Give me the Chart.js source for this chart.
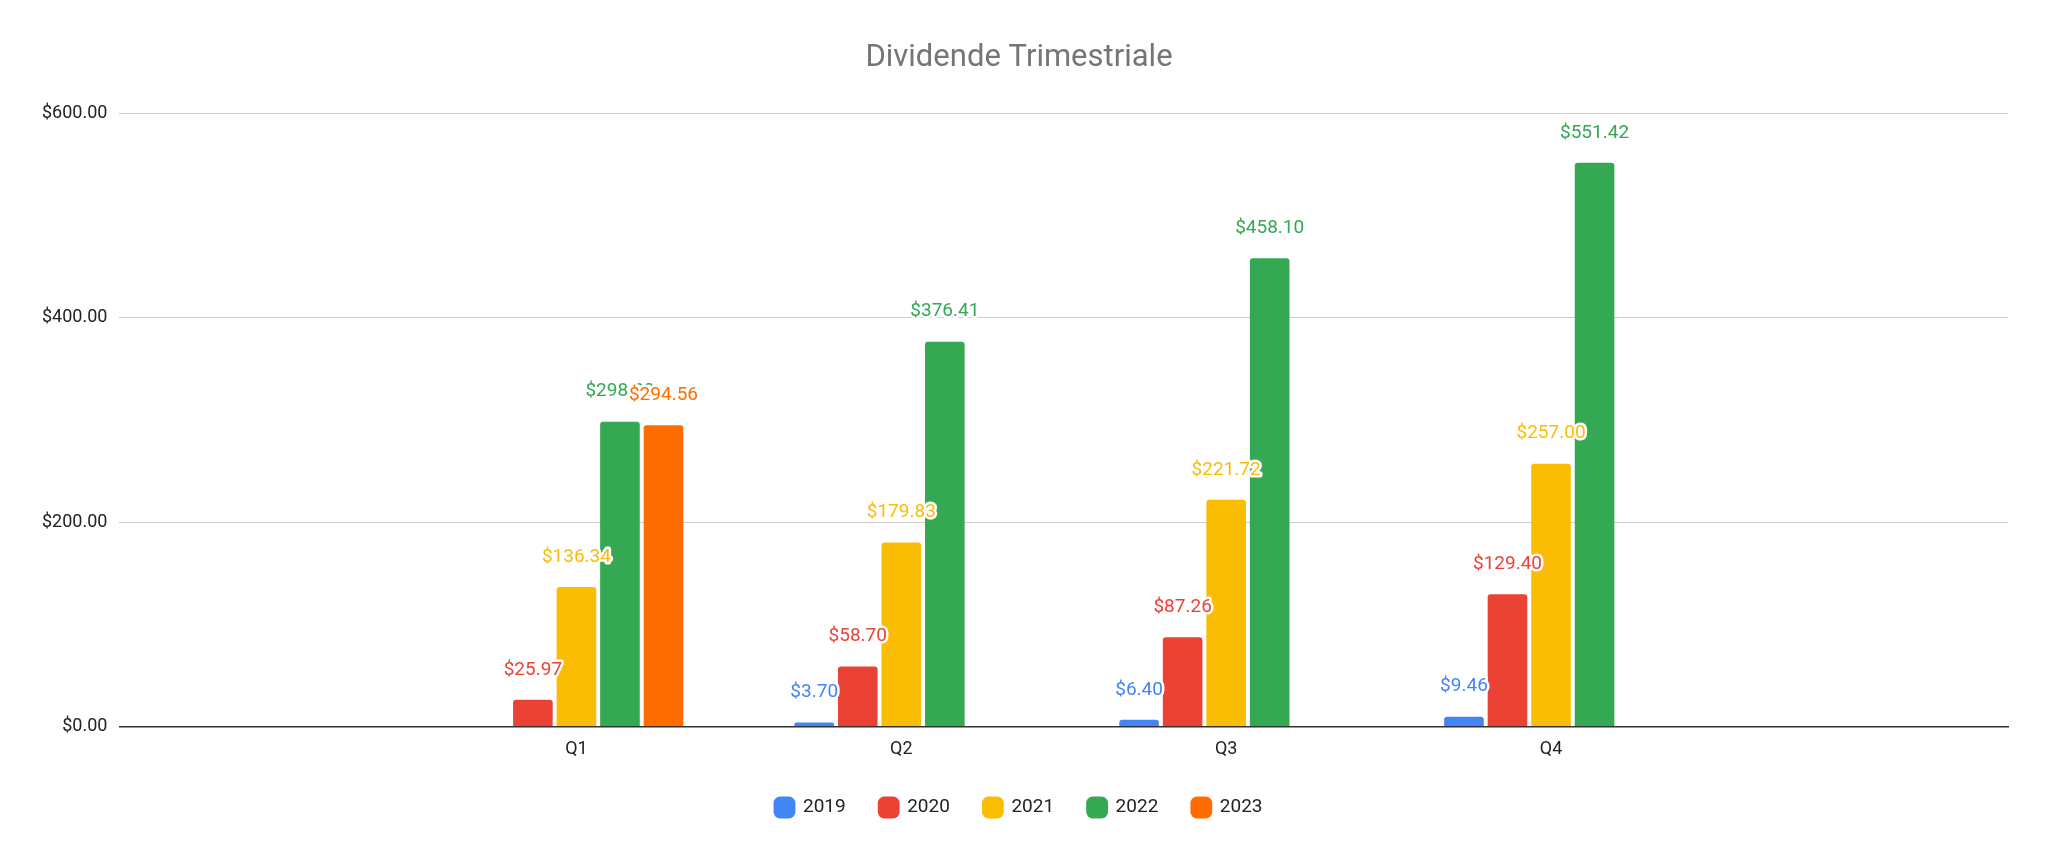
<!DOCTYPE html>
<html>
<head>
<meta charset="utf-8">
<script src="https://cdn.jsdelivr.net/npm/chart.js@4"></script>
<style>
  html, body { margin: 0; padding: 0; background: #fff; }
  #wrap { width: 2048px; height: 841px; }
</style>
</head>
<body>
<div id="wrap"><canvas id="chart"></canvas></div>
<script>
const quarters = ['Q1', 'Q2', 'Q3', 'Q4'];
const years = ['2019', '2020', '2021', '2022', '2023'];
const div2019 = [null, 3.70, 6.40, 9.46];
const div2020 = [25.97, 58.70, 87.26, 129.40];
const div2021 = [136.34, 179.83, 221.72, 257.00];
const div2022 = [298.20, 376.41, 458.10, 551.42];
const div2023 = [294.56, null, null, null];
const yTicks = [0, 200, 400, 600];

const colors = ['#4285f4', '#ea4335', '#fbbc04', '#34a853', '#ff6d01'];
const series = [div2019, div2020, div2021, div2022, div2023];

const money = v => '$' + v.toFixed(2);

// value labels above each bar, white halo like the original
const barLabels = {
  id: 'barLabels',
  afterDatasetsDraw(chart) {
    const ctx = chart.ctx;
    ctx.save();
    ctx.font = '19px Roboto, sans-serif';
    ctx.textAlign = 'center';
    ctx.textBaseline = 'middle';
    ctx.lineJoin = 'round';
    chart.data.datasets.forEach((ds, i) => {
      chart.getDatasetMeta(i).data.forEach((bar, j) => {
        const v = ds.data[j].y;
        if (v == null) return;
        const txt = money(v);
        const y = bar.y - 30;
        ctx.lineWidth = 5;
        ctx.strokeStyle = '#fff';
        ctx.strokeText(txt, bar.x, y);
        ctx.fillStyle = ds.backgroundColor;
        ctx.fillText(txt, bar.x, y);
      });
    });
    ctx.restore();
  }
};

new Chart(document.getElementById('chart'), {
  type: 'bar',
  data: {
    datasets: years.map((y, i) => ({
      label: y,
      data: series[i].map((v, j) => ({ x: j, y: v })).filter(p => p.y != null),
      backgroundColor: colors[i],
      borderRadius: { topLeft: 3, topRight: 3 },
      borderSkipped: 'bottom',
      categoryPercentage: 0.67,
      barPercentage: 0.91
    }))
  },
  options: {
    responsive: true,
    maintainAspectRatio: false,
    animation: false,
    layout: { padding: { left: 30, right: 40, top: 8, bottom: 14 } },
    plugins: {
      title: {
        display: true,
        text: 'Dividende Trimestriale',
        color: '#757575',
        font: { family: 'Roboto, sans-serif', size: 31, weight: 'normal' },
        padding: { top: 32, bottom: 36 }
      },
      legend: {
        position: 'bottom',
        labels: {
          usePointStyle: true,
          pointStyle: 'rectRounded',
          boxWidth: 18,
          boxHeight: 18,
          color: '#222',
          padding: 34,
          font: { family: 'Roboto, sans-serif', size: 19 }
        }
      },
      tooltip: { enabled: false }
    },
    scales: {
      x: {
        type: 'linear',
        min: -0.68,
        max: 3.68,
        afterBuildTicks: axis => { axis.ticks = quarters.map((q, i) => ({ value: i })); },
        grid: { display: false },
        border: { color: '#333', width: 1.5 },
        ticks: {
          color: '#222',
          font: { family: 'Roboto, sans-serif', size: 18 },
          padding: 4,
          callback: v => quarters[v]
        }
      },
      y: {
        min: 0,
        max: 600,
        afterBuildTicks: axis => { axis.ticks = yTicks.map(v => ({ value: v })); },
        grid: { color: '#cccccc', drawTicks: false },
        border: { display: false },
        ticks: {
          color: '#222',
          padding: 12,
          font: { family: 'Roboto, sans-serif', size: 18 },
          callback: v => money(v)
        }
      }
    }
  },
  plugins: [barLabels]
});
</script>
</body>
</html>
